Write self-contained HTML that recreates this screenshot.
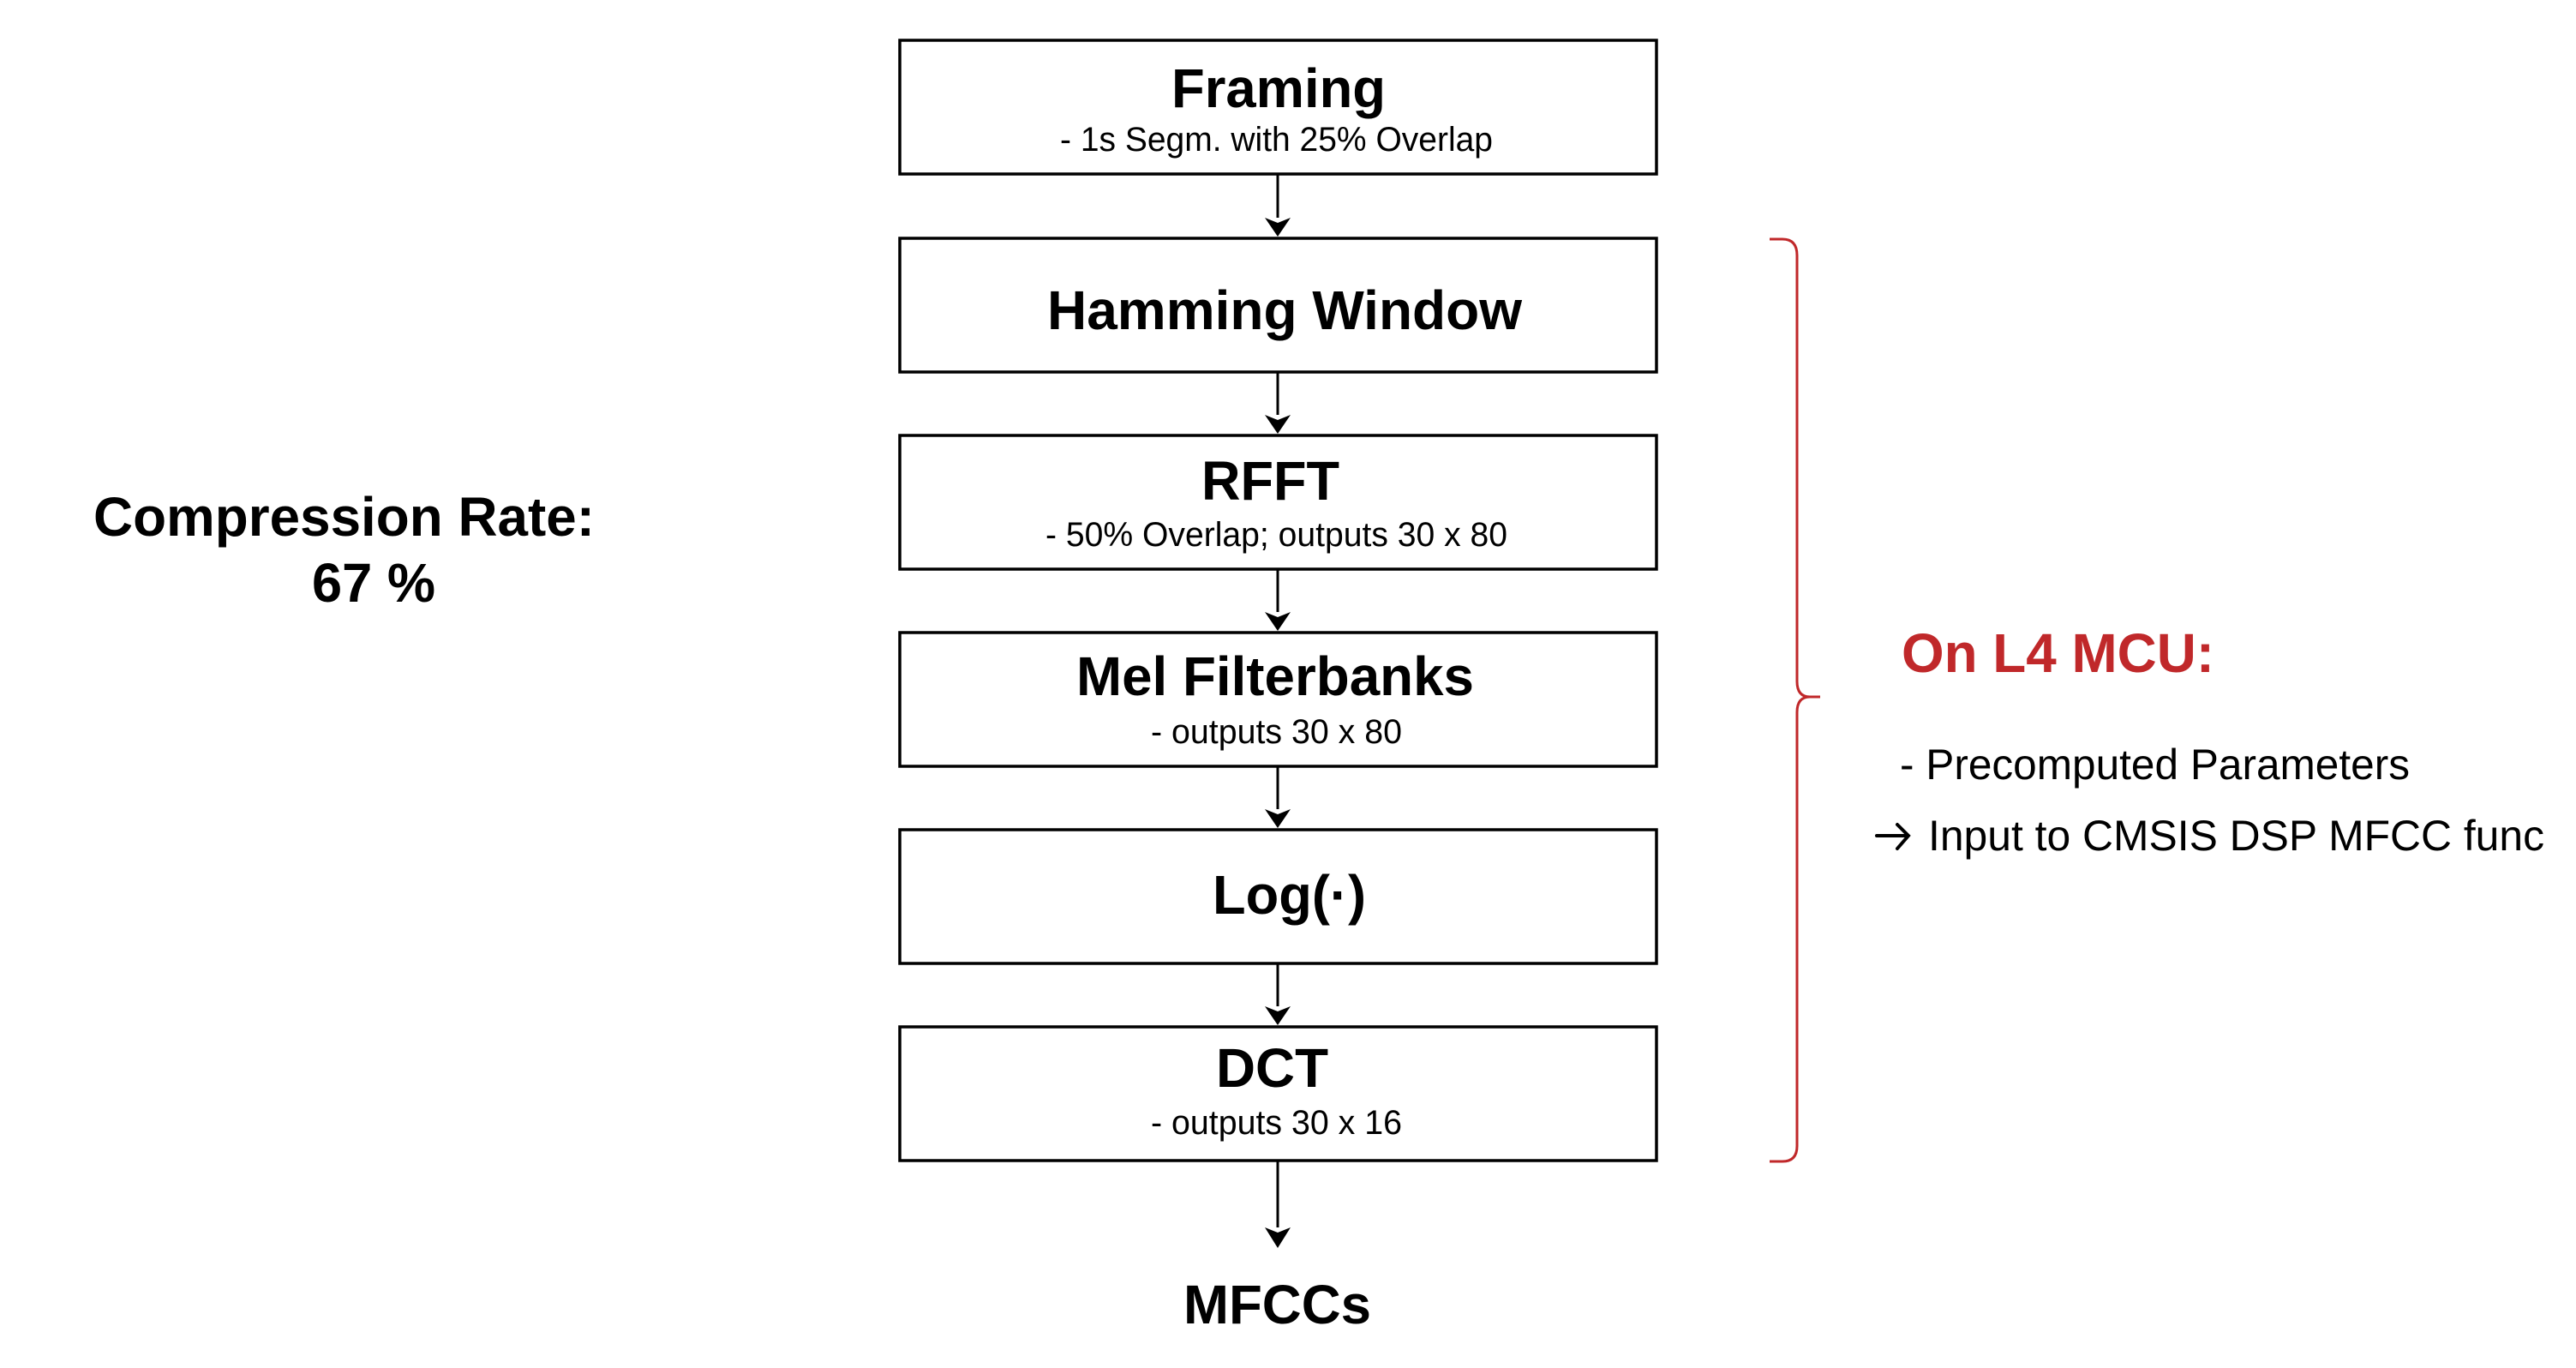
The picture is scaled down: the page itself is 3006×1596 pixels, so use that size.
<!DOCTYPE html>
<html><head><meta charset="utf-8"><style>
html,body{margin:0;padding:0;background:#fff;}
svg{display:block;}
text{font-family:"Liberation Sans",Arial,sans-serif;fill:#000;}
.t{font-weight:bold;font-size:64px;}
.s{font-size:40px;}
.r{font-size:50px;}
</style></head><body>
<svg width="3006" height="1596" viewBox="0 0 3006 1596" xmlns="http://www.w3.org/2000/svg">
<g fill="#fff" stroke="#000" stroke-width="3.5">
<rect x="1050" y="47" width="883" height="156"/>
<rect x="1050" y="278" width="883" height="156"/>
<rect x="1050" y="508" width="883" height="156"/>
<rect x="1050" y="738" width="883" height="156"/>
<rect x="1050" y="968" width="883" height="156"/>
<rect x="1050" y="1198" width="883" height="156"/>
</g>
<g stroke="#000" stroke-width="3">
<line x1="1491" y1="203" x2="1491" y2="254"/>
<path d="M1476,254 L1491,260 L1506,254 L1491,276 Z" fill="#000" stroke="none"/>
<line x1="1491" y1="434" x2="1491" y2="484"/>
<path d="M1476,484 L1491,490 L1506,484 L1491,506 Z" fill="#000" stroke="none"/>
<line x1="1491" y1="664" x2="1491" y2="714"/>
<path d="M1476,714 L1491,720 L1506,714 L1491,736 Z" fill="#000" stroke="none"/>
<line x1="1491" y1="894" x2="1491" y2="944"/>
<path d="M1476,944 L1491,950 L1506,944 L1491,966 Z" fill="#000" stroke="none"/>
<line x1="1491" y1="1124" x2="1491" y2="1174"/>
<path d="M1476,1174 L1491,1180 L1506,1174 L1491,1196 Z" fill="#000" stroke="none"/>
<line x1="1491" y1="1354" x2="1491" y2="1432"/>
<path d="M1476,1432 L1491,1438 L1506,1432 L1491,1456 Z" fill="#000" stroke="none"/>
</g>
<path d="M2065,279 L2080,279 Q2097,279 2097,298 L2097,795 Q2097,813 2112,813 L2124,813 M2112,813 Q2097,813 2097,831 L2097,1337 Q2097,1355 2080,1355 L2065,1355" fill="none" stroke="#c0282a" stroke-width="3"/>

<text class="t" x="1367" y="125" textLength="250" lengthAdjust="spacingAndGlyphs">Framing</text>
<text class="s" x="1237" y="176" textLength="505" lengthAdjust="spacingAndGlyphs">- 1s Segm. with 25% Overlap</text>
<text class="t" x="1222" y="384" textLength="554" lengthAdjust="spacingAndGlyphs">Hamming Window</text>
<text class="t" x="1402" y="583" textLength="161" lengthAdjust="spacingAndGlyphs">RFFT</text>
<text class="s" x="1220" y="637" textLength="539" lengthAdjust="spacingAndGlyphs">- 50% Overlap; outputs 30 x 80</text>
<text class="t" x="1256" y="811" textLength="464" lengthAdjust="spacingAndGlyphs">Mel Filterbanks</text>
<text class="s" x="1343" y="867" textLength="293" lengthAdjust="spacingAndGlyphs">- outputs 30 x 80</text>
<text class="t" x="1415" y="1066" textLength="179" lengthAdjust="spacingAndGlyphs">Log(·)</text>
<text class="t" x="1419" y="1268" textLength="131" lengthAdjust="spacingAndGlyphs">DCT</text>
<text class="s" x="1343" y="1323" textLength="293" lengthAdjust="spacingAndGlyphs">- outputs 30 x 16</text>
<text class="t" x="1381" y="1544" textLength="219" lengthAdjust="spacingAndGlyphs">MFCCs</text>

<text class="t" x="109" y="625" textLength="585" lengthAdjust="spacingAndGlyphs">Compression Rate:</text>
<text class="t" x="364" y="702" textLength="144" lengthAdjust="spacingAndGlyphs">67 %</text>

<text class="t" x="2219" y="784" textLength="365" lengthAdjust="spacingAndGlyphs" style="fill:#c0282a">On L4 MCU:</text>
<text class="r" x="2217" y="909" textLength="595" lengthAdjust="spacingAndGlyphs">- Precomputed Parameters</text>
<g stroke="#000" stroke-width="4" fill="none" stroke-linecap="round">
<line x1="2190" y1="975" x2="2226" y2="975"/>
<path d="M2214,962 L2227,975 L2214,990"/>
</g>
<text class="r" x="2250" y="992" textLength="719" lengthAdjust="spacingAndGlyphs">Input to CMSIS DSP MFCC func</text>
</svg>
</body></html>
